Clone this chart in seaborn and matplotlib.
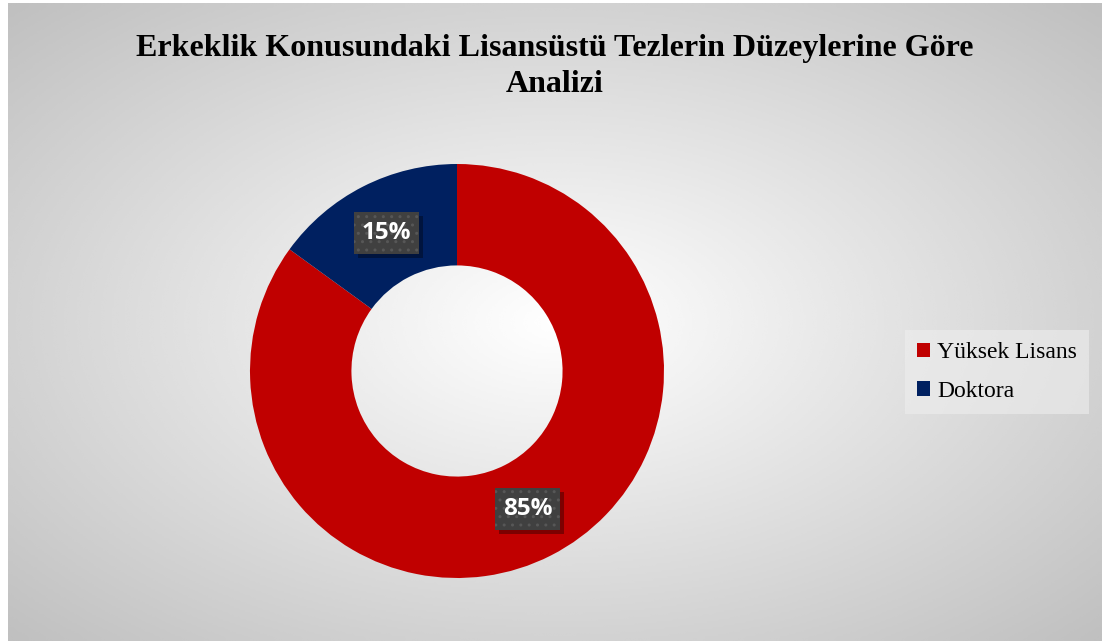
import numpy as np
import matplotlib
matplotlib.use("Agg")
import matplotlib.pyplot as plt
from matplotlib.patches import Rectangle
from matplotlib.transforms import IdentityTransform
import seaborn as sns

levels = ["Yüksek Lisans", "Doktora"]
shares = [85, 15]
chart_title = "Erkeklik Konusundaki Lisansüstü Tezlerin Düzeylerine Göre\nAnalizi"

sns.set_theme(style="white")
plt.rcParams["font.family"] = ["Liberation Serif", "DejaVu Serif"]
plt.rcParams["text.color"] = "black"
colors = sns.color_palette(["#C00000", "#002060"])

W, H = 1105, 641
fig = plt.figure(figsize=(W / 100, H / 100), dpi=100, facecolor="white")

# radial grey background
bg = fig.add_axes([8 / W, 0, (1102 - 8) / W, (H - 3) / H])
yy, xx = np.mgrid[-1:1:300j, -1:1:500j]
d = np.sqrt(xx ** 2 + yy ** 2) / np.sqrt(2)
bg.imshow(1 - 0.25 * d, cmap="gray", vmin=0, vmax=1, aspect="auto",
          extent=[0, 1, 0, 1], interpolation="bicubic")
bg.set_axis_off()

# donut
r = 207
cx, cy = 457, H - 371
ax = fig.add_axes([(cx - r) / W, (cy - r) / H, 2 * r / W, 2 * r / H])
ax.set_facecolor("none")
wedges, texts, autotexts = ax.pie(
    shares, colors=colors, startangle=90, counterclock=False,
    autopct="%1.0f%%", pctdistance=0.75,
    wedgeprops=dict(width=0.49, linewidth=0),
    textprops=dict(color="white", fontsize=17.5, fontweight="bold",
                   family=["Open Sans", "DejaVu Sans"]))
ax.set_xlim(-1, 1)
ax.set_ylim(-1, 1)
ax.set_aspect("equal")
ax.set_axis_off()

for t in autotexts:
    t.set_ha("center")
    t.set_va("center")
    t.set_zorder(4)

# label boxes with a drop shadow, sized from the rendered text
fig.canvas.draw()
px, py = 8, 9
for t in autotexts:
    bb = t.get_window_extent()
    x0, y0 = bb.x0 - px, bb.y0 - py
    w, h = bb.width + 2 * px, bb.height + 2 * py
    ax.add_artist(Rectangle((x0 + 4, y0 - 4), w, h, transform=IdentityTransform(),
                            fc="black", ec="none", alpha=0.35, zorder=3, clip_on=False))
    ax.add_artist(Rectangle((x0, y0), w, h, transform=IdentityTransform(),
                            fc="#404040", ec="#575757", lw=0, hatch="..",
                            zorder=3.5, clip_on=False))

leg = fig.legend(wedges, levels, loc="center left",
                 bbox_to_anchor=(905 / W, 1 - 372 / H),
                 frameon=True, fancybox=False, fontsize=17,
                 handlelength=0.55, handleheight=0.55, handletextpad=0.3,
                 labelspacing=0.75, borderpad=0.5, borderaxespad=0)
leg.get_frame().set_facecolor("#eeeeee")
leg.get_frame().set_alpha(0.6)
leg.get_frame().set_linewidth(0)
for txt in leg.get_texts():
    txt.set_color("black")

fig.text(0.502, 1 - 34 / H, chart_title, ha="center", va="top", color="black",
         fontsize=23, fontweight="bold", linespacing=1.3)

fig.savefig("out.png", dpi=100)
